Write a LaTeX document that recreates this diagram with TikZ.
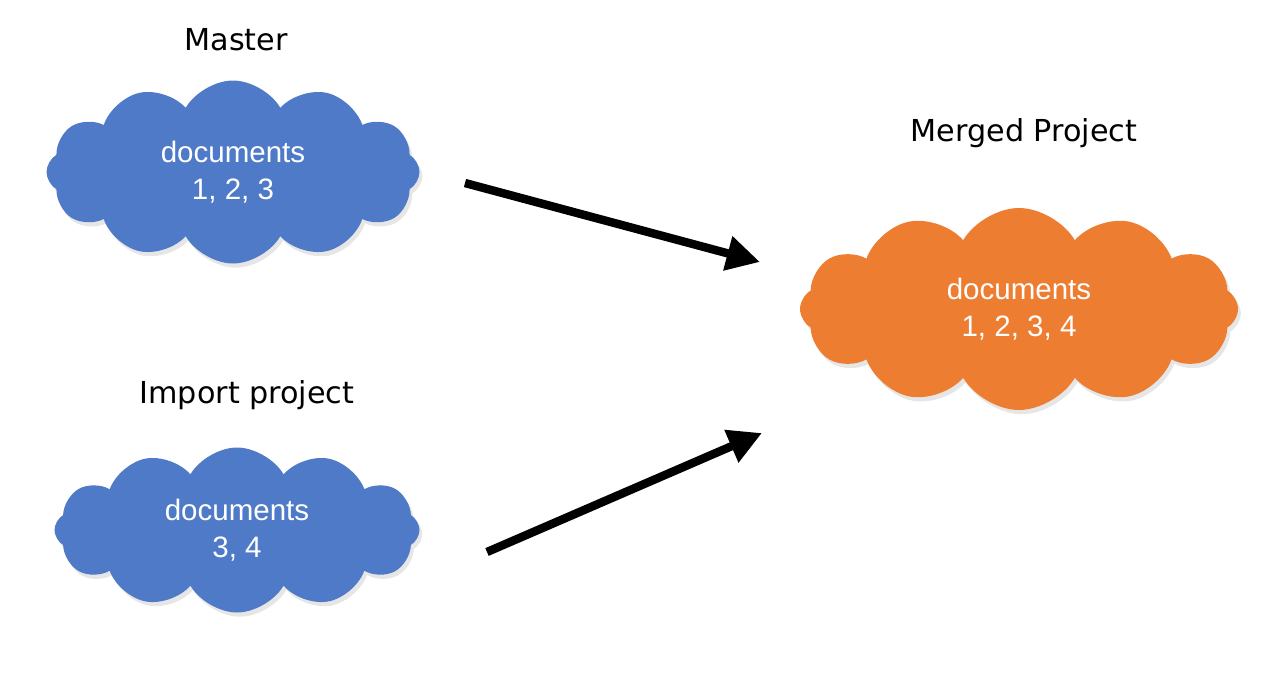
\documentclass[tikz,border=0pt]{standalone}
\usepackage{fontspec}
\setmainfont{Liberation Sans}
\newfontfamily\labelfont{DejaVu Sans}
\usepackage{xcolor}
\usepackage{tikz}
\usetikzlibrary{arrows.meta,shapes.symbols,shadows}
\definecolor{AzulNube}{RGB}{79,122,199}
\definecolor{NaranjaNube}{RGB}{237,125,49}

\tikzset{
  nube/.style={cloud,cloud puffs=12,cloud puff arc=120,cloud ignores aspect,
    inner sep=0pt,text=white,align=center,font=\fontsize{8.4}{10.4}\selectfont,
    drop shadow={opacity=0.2,shadow xshift=0.8pt,shadow yshift=-1.2pt}},
  titulo/.style={font=\labelfont\fontsize{8.6}{10}\selectfont},
  flecha/.style={line width=2.4pt,-{Triangle[length=9.5pt,width=9.5pt]}}
}

\begin{document}
\begin{tikzpicture}[x=1cm,y=1cm]
  \useasboundingbox (0,0) rectangle (12.76,-6.72);
  \node[nube,fill=AzulNube,minimum width=3.73cm,minimum height=1.83cm]
    (master) at (2.33,-1.72) {documents\\1, 2, 3};
  \node[nube,fill=AzulNube,minimum width=3.65cm,minimum height=1.65cm]
    (import) at (2.37,-5.30) {documents\\3, 4};
  \node[nube,fill=NaranjaNube,minimum width=4.38cm,minimum height=2.02cm]
    (merged) at (10.19,-3.09) {documents\\1, 2, 3, 4};
  \node[titulo] (tmaster) at (2.36,-0.40) {Master};
  \node[titulo] (timport) at (2.47,-3.95) {Import project};
  \node[titulo] (tmerged) at (10.24,-1.33) {Merged Project};
  \coordinate (m-out) at (4.65,-1.83);
  \coordinate (i-out) at (4.87,-5.52);
  \coordinate (g-in1) at (7.60,-2.62);
  \coordinate (g-in2) at (7.62,-4.33);
  \draw[flecha] (m-out) -- (g-in1);
  \draw[flecha] (i-out) -- (g-in2);
\end{tikzpicture}
\end{document}
